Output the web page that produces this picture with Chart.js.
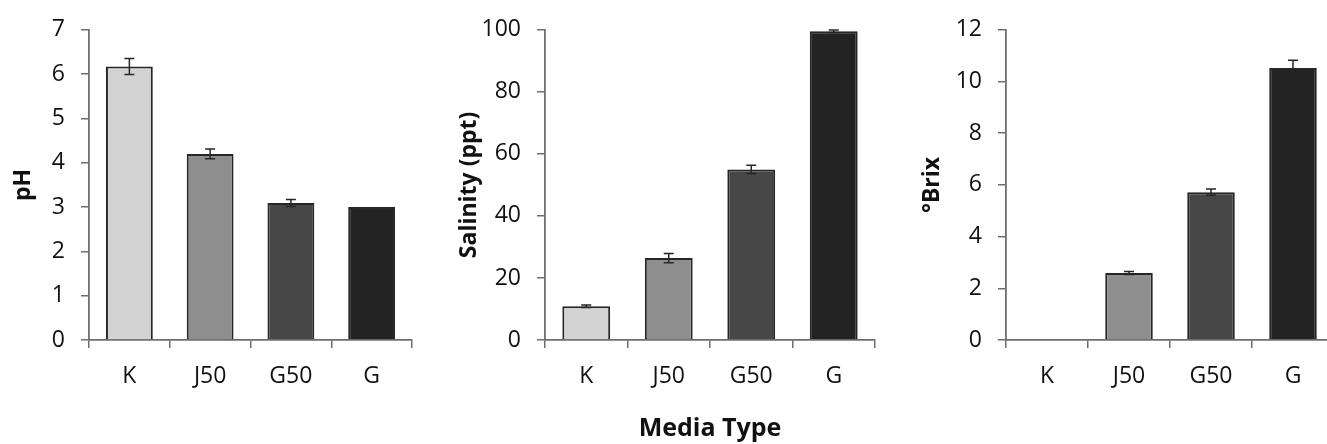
<!DOCTYPE html>
<html>
<head>
<meta charset="utf-8">
<script src="https://cdn.jsdelivr.net/npm/chart.js@4.4.1/dist/chart.umd.min.js"></script>
<style>
  html, body { margin:0; padding:0; background:#fff; overflow:hidden; width:1327px; height:444px; }
  canvas { position:absolute; top:0; }
</style>
</head>
<body>
<canvas id="c1" width="430" height="444" style="left:0px"></canvas>
<canvas id="c2" width="450" height="444" style="left:430px"></canvas>
<canvas id="c3" width="460" height="444" style="left:880px"></canvas>
<script>
// ---- data ----
const categories = ['K', 'J50', 'G50', 'G'];
const phValues = [6.17, 4.20, 3.09, 3.00];
const phErrors = [0.18, 0.11, 0.08, 0];
const salinityValues = [10.9, 26.4, 55.0, 99.5];
const salinityErrors = [0.4, 1.5, 1.3, 0.4];
const brixValues = [0, 2.59, 5.72, 10.52];
const brixErrors = [0, 0.06, 0.12, 0.30];
const phTicks = [0, 7, 1];
const salinityTicks = [0, 100, 20];
const brixTicks = [0, 12, 2];
const xTitle = 'Media Type';

// ---- styles ----
const barColors = ['#d3d3d3', '#8e8e8e', '#474747', '#232323'];
const FONT = "'Open Sans', 'Noto Sans', sans-serif";
const AXIS = '#6e6e6e';

const errorBarPlugin = {
  id: 'errbars',
  afterDatasetsDraw(chart, args, opts) {
    const meta = chart.getDatasetMeta(0);
    const ys = chart.scales.y;
    const vals = chart.data.datasets[0].data;
    const ctx = chart.ctx;
    ctx.save();
    ctx.strokeStyle = '#262626';
    ctx.lineWidth = 1.5;
    meta.data.forEach((el, i) => {
      const e = opts.errors[i];
      if (!e) return;
      const t = ys.getPixelForValue(vals[i] + e);
      const b = ys.getPixelForValue(vals[i] - e);
      const x = el.x;
      ctx.beginPath();
      ctx.moveTo(x, t); ctx.lineTo(x, b);
      ctx.moveTo(x - 5, t); ctx.lineTo(x + 5, t);
      ctx.moveTo(x - 5, b); ctx.lineTo(x + 5, b);
      ctx.stroke();
    });
    ctx.restore();
  }
};

function makeChart(id, values, errors, ticks, yTitle, yWidth, yTitlePad, rightPad, top, showX) {
  return new Chart(document.getElementById(id), {
    type: 'bar',
    data: {
      labels: categories,
      datasets: [{
        data: values,
        backgroundColor: barColors,
        borderColor: '#262626',
        borderWidth: 2,
        borderSkipped: 'bottom',
        categoryPercentage: 1.0,
        barPercentage: 0.58
      }]
    },
    options: {
      responsive: false,
      animation: false,
      layout: { padding: { left: 0, right: rightPad, top: top, bottom: 0 } },
      plugins: {
        legend: { display: false },
        tooltip: { enabled: false },
        errbars: { errors: errors }
      },
      scales: {
        x: {
          offset: true,
          grid: { display: true, offset: true, drawOnChartArea: false, drawTicks: true, tickLength: 8, color: AXIS, lineWidth: 1.5 },
          border: { display: true, color: AXIS, width: 1.8 },
          ticks: { color: '#111', font: { family: FONT, size: 23 }, padding: 15 },
          title: { display: showX, text: xTitle, color: '#111', font: { family: FONT, size: 25, weight: 'bold' }, padding: { top: 0, bottom: 0 } },
          afterFit: s => { s.height = 104; }
        },
        y: {
          min: ticks[0], max: ticks[1],
          grid: { display: true, drawOnChartArea: false, drawTicks: true, tickLength: 8, color: AXIS, lineWidth: 1.5 },
          border: { display: true, color: AXIS, width: 1.8 },
          ticks: { stepSize: ticks[2], color: '#111', font: { family: FONT, size: 23 }, padding: 16 },
          title: { display: true, text: yTitle, color: '#111', font: { family: FONT, size: 23, weight: 'bold' }, padding: { top: yTitlePad, bottom: 0 } },
          afterFit: s => { s.width = yWidth; }
        }
      }
    },
    plugins: [errorBarPlugin]
  });
}

makeChart('c1', phValues, phErrors, phTicks, 'pH', 89, 10, 18, 24, false);
makeChart('c2', salinityValues, salinityErrors, salinityTicks, 'Salinity (ppt)', 115, 26, 5, 23, true);
makeChart('c3', brixValues, brixErrors, brixTicks, '°Brix', 126, 39, 6, 23, false);
</script>
</body>
</html>
